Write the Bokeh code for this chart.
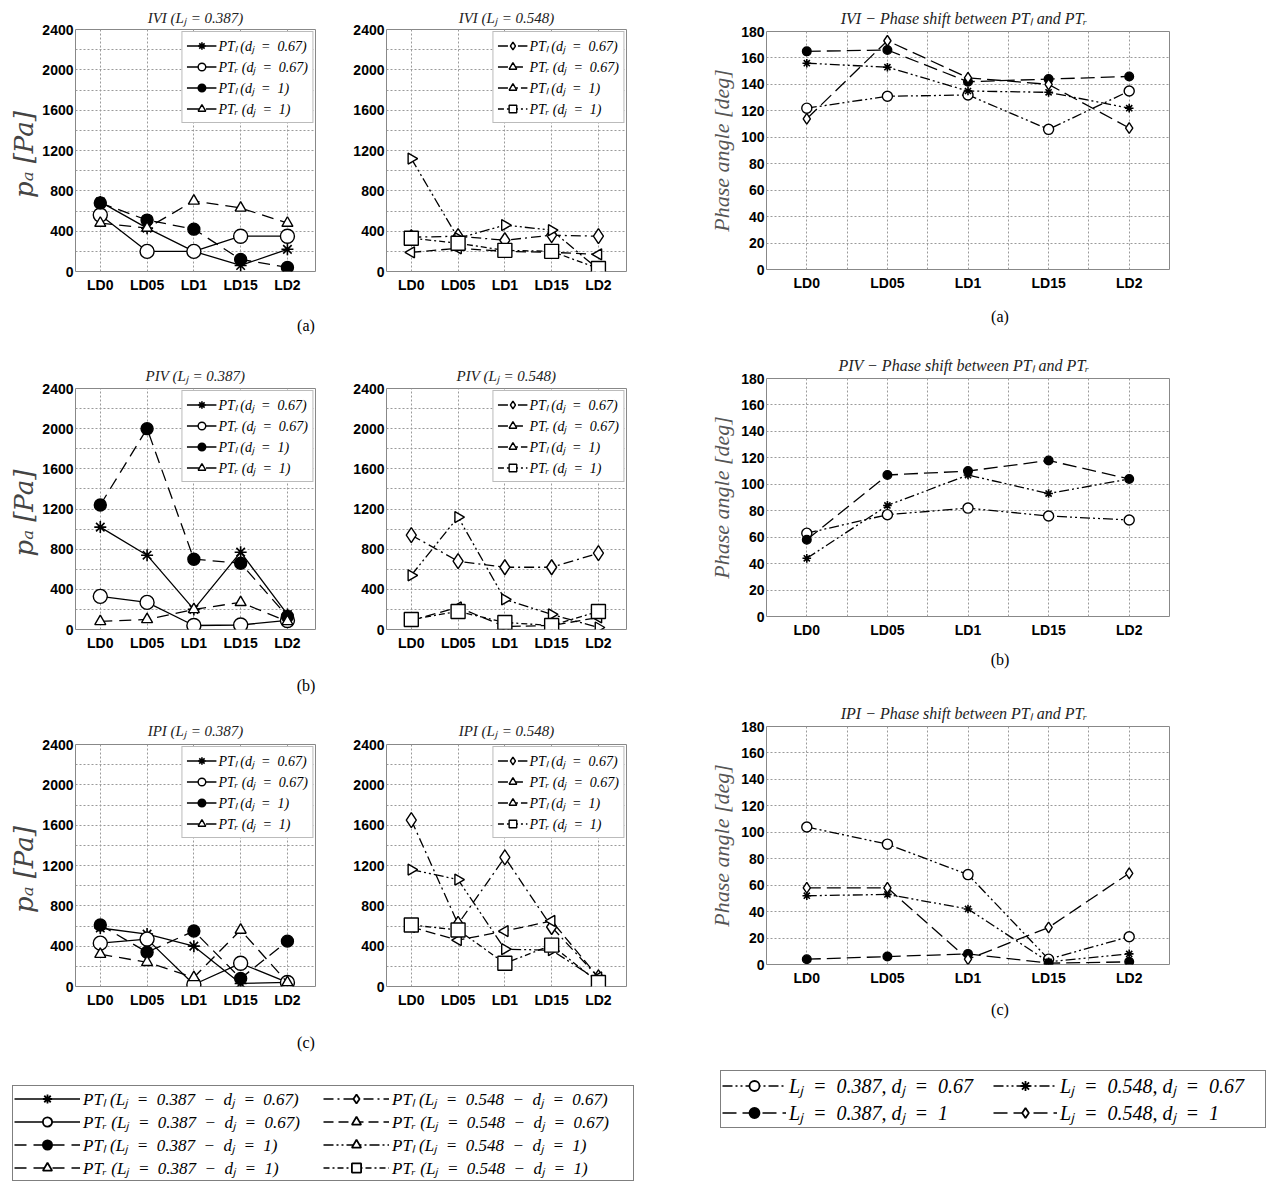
import math
from bokeh.plotting import figure
from bokeh.models import Range1d, FixedTicker, Legend, LegendItem, Div, Spacer
from bokeh.layouts import row, column
from bokeh.embed import file_html
from bokeh.resources import INLINE

# ---------------- data ----------------
categories = ["LD0", "LD05", "LD1", "LD15", "LD2"]
pressure_ticks = [0, 400, 800, 1200, 1600, 2000, 2400]
pressure_minor = [200, 600, 1000, 1400, 1800, 2200]
phase_ticks = [0, 20, 40, 60, 80, 100, 120, 140, 160, 180]

# IVI, Lj = 0.387
ivi_387_ptl_067 = [690, 430, 200, 60, 220]
ivi_387_ptr_067 = [560, 200, 200, 350, 350]
ivi_387_ptl_1 = [680, 510, 420, 120, 40]
ivi_387_ptr_1 = [480, 430, 700, 630, 480]
# IVI, Lj = 0.548
ivi_548_ptl_067 = [340, 350, 310, 360, 350]
ivi_548_ptr_067 = [190, 230, 200, 190, 170]
ivi_548_ptl_1 = [1120, 330, 460, 410, 20]
ivi_548_ptr_1 = [330, 280, 210, 200, 30]
# PIV, Lj = 0.387
piv_387_ptl_067 = [1020, 740, 200, 770, 150]
piv_387_ptr_067 = [330, 270, 40, 45, 90]
piv_387_ptl_1 = [1240, 2000, 700, 660, 130]
piv_387_ptr_1 = [80, 100, 200, 270, 80]
# PIV, Lj = 0.548
piv_548_ptl_067 = [940, 680, 620, 620, 760]
piv_548_ptr_067 = [90, 220, 30, 40, 120]
piv_548_ptl_1 = [540, 1120, 300, 150, 20]
piv_548_ptr_1 = [100, 180, 70, 40, 180]
# IPI, Lj = 0.387
ipi_387_ptl_067 = [580, 520, 400, 30, 40]
ipi_387_ptr_067 = [430, 470, 20, 230, 40]
ipi_387_ptl_1 = [610, 340, 550, 80, 450]
ipi_387_ptr_1 = [320, 240, 90, 560, 40]
# IPI, Lj = 0.548
ipi_548_ptl_067 = [1650, 620, 1280, 590, 90]
ipi_548_ptr_067 = [590, 460, 550, 650, 90]
ipi_548_ptl_1 = [1160, 1060, 370, 360, 60]
ipi_548_ptr_1 = [610, 560, 230, 410, 40]

# Phase shift between PT_l and PT_r [deg]
phase_ivi_387_067 = [122, 131, 132, 106, 135]
phase_ivi_387_1 = [165, 166, 142, 144, 146]
phase_ivi_548_067 = [156, 153, 135, 134, 122]
phase_ivi_548_1 = [114, 173, 145, 140, 107]
phase_piv_387_067 = [63, 77, 82, 76, 73]
phase_piv_387_1 = [58, 107, 110, 118, 104]
phase_piv_548_067 = [44, 84, 107, 93, 104]
phase_ipi_387_067 = [104, 91, 68, 4, 21]
phase_ipi_387_1 = [4, 6, 8, 1, 2]
phase_ipi_548_067 = [52, 53, 42, 2, 8]
phase_ipi_548_1 = [58, 58, 4, 28, 69]

x = list(range(len(categories)))

SERIF = "Liberation Serif"
SANS = "Liberation Sans"
GRID = "#9a9a9a"

# ---------------- styles ----------------
ST = {
    "star": dict(marker="asterisk", size=12, fill="black", angle=0.0),
    "ocirc": dict(marker="circle", size=14, fill="white", angle=0.0),
    "fcirc": dict(marker="circle", size=12, fill="black", angle=0.0),
    "tri": dict(marker="triangle", size=11, fill="white", angle=0.0),
    "diam": dict(marker="diamond", size=15, fill="white", angle=0.0),
    "ltri": dict(marker="triangle", size=11, fill="white", angle=math.pi / 2),
    "rtri": dict(marker="triangle", size=11, fill="white", angle=-math.pi / 2),
    "sq": dict(marker="square", size=14, fill="white", angle=0.0),
}
DASH = {
    "star": "solid", "ocirc": "solid", "fcirc": "12 7", "tri": "12 7",
    "diam": "10 4 2 4", "ltri": "10 5", "rtri": "10 3 2 3 2 3", "sq": "6 3 2 3",
}

lab_067_l = "PT\u2097 (d\u2C7C  =  0.67)"
lab_067_r = "PT\u1D63 (d\u2C7C  =  0.67)"
lab_1_l = "PT\u2097 (d\u2C7C  =  1)"
lab_1_r = "PT\u1D63 (d\u2C7C  =  1)"


def add_series(p, ys, key, size_scale=1.0, dash=None):
    st = ST[key]
    lr = p.line(x, ys, line_color="black", line_width=1.3,
                line_dash=dash if dash else DASH[key])
    sr = p.scatter(x, ys, marker=st["marker"], size=st["size"] * size_scale,
                   angle=st["angle"], fill_color=st["fill"], line_color="black",
                   line_width=1.6 if key == "star" else 1.4)
    return lr, sr


def style_axes(p, ylabel, ylabel_font, ylabel_size, ylabel_color):
    p.outline_line_color = "#888888"
    p.outline_line_width = 1
    p.background_fill_color = "white"
    p.border_fill_color = "white"
    for ax in (p.xaxis, p.yaxis):
        ax.axis_line_color = None
        ax.major_tick_out = 0
        ax.major_tick_in = 0
        ax.minor_tick_out = 0
        ax.minor_tick_in = 0
        ax.major_label_text_font = SANS
        ax.major_label_text_font_style = "bold"
        ax.major_label_text_font_size = "14px"
        ax.major_label_text_color = "black"
    p.xaxis.major_label_standoff = 5
    p.yaxis.major_label_standoff = 2
    p.xaxis.major_label_overrides = {i: c for i, c in enumerate(categories)}
    if ylabel:
        p.yaxis.axis_label = ylabel
        p.yaxis.axis_label_text_font = ylabel_font
        p.yaxis.axis_label_text_font_style = "italic"
        p.yaxis.axis_label_text_font_size = ylabel_size
        p.yaxis.axis_label_text_color = ylabel_color
        p.yaxis.axis_label_standoff = 0
    for g in (p.xgrid, p.ygrid):
        g.grid_line_color = GRID
        g.grid_line_dash = "2 2"
        g.grid_line_width = 1


def title_style(p, text, size, standoff):
    p.title.text = text
    p.title.align = "center"
    p.title.text_font = SERIF
    p.title.text_font_style = "italic"
    p.title.text_font_size = size
    p.title.text_color = "#222222"
    p.title.standoff = standoff


def pressure_fig(title, series, keys, width, bl, br, height, bt, bb, standoff, ylabel=None):
    p = figure(width=width, height=height, x_range=Range1d(-0.53, 4.6),
               y_range=Range1d(0, 2400), output_backend="svg", toolbar_location=None,
               min_border_left=bl, min_border_right=br, min_border_top=bt,
               min_border_bottom=bb)
    title_style(p, title, "15px", standoff)
    p.xaxis.ticker = FixedTicker(ticks=x)
    p.yaxis.ticker = FixedTicker(ticks=pressure_ticks, minor_ticks=pressure_minor)
    style_axes(p, ylabel, "DejaVu Serif", "26px", "#444444")
    p.ygrid.minor_grid_line_color = GRID
    p.ygrid.minor_grid_line_dash = "2 2"
    labels = [lab_067_l, lab_067_r, lab_1_l, lab_1_r]
    items = []
    for ys, key, lab in zip(series, keys, labels):
        lr, sr = add_series(p, ys, key)
        items.append(LegendItem(label=lab, renderers=[lr, sr]))
    leg = Legend(items=items, location="top_right", margin=2, padding=4, spacing=2,
                 label_height=19, glyph_height=19, glyph_width=30, label_standoff=2,
                 border_line_color="#777777", border_line_width=1,
                 background_fill_alpha=1.0, label_text_font=SERIF,
                 label_text_color="black",
                 label_text_font_style="italic", label_text_font_size="14px")
    p.add_layout(leg)
    return p


def phase_fig(title, series, keys, height, bt, bb):
    p = figure(width=500, height=height, x_range=Range1d(-0.5, 4.5),
               y_range=Range1d(0, 180), output_backend="svg", toolbar_location=None,
               min_border_left=76, min_border_right=21, min_border_top=bt,
               min_border_bottom=bb)
    title_style(p, title, "16px", 9)
    p.xaxis.ticker = FixedTicker(ticks=x, minor_ticks=[0.5, 1.5, 2.5, 3.5])
    p.yaxis.ticker = FixedTicker(ticks=phase_ticks)
    style_axes(p, "Phase angle [deg]", SERIF, "22px", "#555555")
    p.yaxis.axis_label_standoff = 4
    p.xgrid.minor_grid_line_color = GRID
    p.xgrid.minor_grid_line_dash = "2 2"
    for ys, key in zip(series, keys):
        dash = "14 6" if key in ("fcirc", "diam") else "10 3 2 3 2 3"
        add_series(p, ys, key, size_scale=0.72, dash=dash)
    return p


K387 = ["star", "ocirc", "fcirc", "tri"]
K548 = ["diam", "ltri", "rtri", "sq"]
YL = "p\u2090  [Pa]"

a1 = pressure_fig("IVI (L\u2C7C = 0.387)",
                  [ivi_387_ptl_067, ivi_387_ptr_067, ivi_387_ptl_1, ivi_387_ptr_1],
                  K387, 324, 66, 15, 300, 29, 29, 8, YL)
b1 = pressure_fig("IVI (L\u2C7C = 0.548)",
                  [ivi_548_ptl_067, ivi_548_ptr_067, ivi_548_ptl_1, ivi_548_ptr_1],
                  K548, 310, 56, 14, 300, 29, 29, 8)
a2 = pressure_fig("PIV (L\u2C7C = 0.387)",
                  [piv_387_ptl_067, piv_387_ptr_067, piv_387_ptl_1, piv_387_ptr_1],
                  K387, 324, 66, 15, 300, 33, 26, 10, YL)
b2 = pressure_fig("PIV (L\u2C7C = 0.548)",
                  [piv_548_ptl_067, piv_548_ptr_067, piv_548_ptl_1, piv_548_ptr_1],
                  K548, 310, 56, 14, 300, 33, 26, 10)
a3 = pressure_fig("IPI (L\u2C7C = 0.387)",
                  [ipi_387_ptl_067, ipi_387_ptr_067, ipi_387_ptl_1, ipi_387_ptr_1],
                  K387, 324, 66, 15, 300, 32, 26, 11, YL)
b3 = pressure_fig("IPI (L\u2C7C = 0.548)",
                  [ipi_548_ptl_067, ipi_548_ptr_067, ipi_548_ptl_1, ipi_548_ptr_1],
                  K548, 310, 56, 14, 300, 32, 26, 11)

PH_TITLE = " \u2212  Phase shift between PT\u2097 and PT\u1D63"
r1 = phase_fig("IVI " + PH_TITLE,
               [phase_ivi_387_067, phase_ivi_387_1, phase_ivi_548_067, phase_ivi_548_1],
               ["ocirc", "fcirc", "star", "diam"], 296, 31, 27)
r2 = phase_fig("PIV " + PH_TITLE,
               [phase_piv_387_067, phase_piv_387_1, phase_piv_548_067],
               ["ocirc", "fcirc", "star"], 290, 28, 22)
r3 = phase_fig("IPI " + PH_TITLE,
               [phase_ipi_387_067, phase_ipi_387_1, phase_ipi_548_067, phase_ipi_548_1],
               ["ocirc", "fcirc", "star", "diam"], 292, 28, 26)


def caption(text, left, height, top):
    d = Div(text=('<div style="margin-top:%dpx;font-family:\'Liberation Serif\';'
                  'font-size:16px;line-height:16px;text-align:center;width:40px;">%s</div>'
                  % (top, text)), width=40, height=height, margin=0)
    return row(Spacer(width=left, height=height, margin=0), d, margin=0, spacing=0)


def legend_fig(width, height, entries, font_size, row_h, glyph_w, label_width):
    # The legend samples are drawn from real series; the view range keeps the
    # lines themselves out of sight so only the legend box shows.
    lf = figure(width=width, height=height, output_backend="svg", toolbar_location=None,
                x_axis_type=None, y_axis_type=None, min_border=0,
                x_range=Range1d(-20, -10), y_range=Range1d(-20, -10))
    lf.outline_line_color = None
    lf.background_fill_color = "white"
    lf.border_fill_color = "white"
    items = []
    for key, dash, lab, scale, ys in entries:
        st = ST[key]
        lr = lf.line(x, ys, line_color="black", line_width=1.6, line_dash=dash)
        sr = lf.scatter(x, ys, marker=st["marker"], size=st["size"] * scale,
                        angle=st["angle"], fill_color=st["fill"], line_color="black",
                        line_width=1.8)
        items.append(LegendItem(label=lab, renderers=[lr, sr]))
    leg = Legend(items=items, location="top_left", ncols=2, margin=4, padding=1,
                 spacing=0, label_height=row_h, glyph_height=row_h, glyph_width=glyph_w,
                 label_standoff=3, label_width=label_width,
                 border_line_color="black", border_line_width=1.5,
                 label_text_font=SERIF, label_text_font_style="italic",
                 label_text_color="black", label_text_font_size=font_size)
    lf.add_layout(leg)
    return lf


E = "\u2002"
L1 = "(L\u2C7C" + E + "=" + E + "0.387" + E + "\u2212" + E + "d\u2C7C" + E + "=" + E
L2 = "(L\u2C7C" + E + "=" + E + "0.548" + E + "\u2212" + E + "d\u2C7C" + E + "=" + E
left_entries = [
    ("star", "solid", "PT\u2097 " + L1 + "0.67)", 0.9, ivi_387_ptl_067),
    ("ocirc", "solid", "PT\u1D63 " + L1 + "0.67)", 0.9, ivi_387_ptr_067),
    ("fcirc", "12 7", "PT\u2097 " + L1 + "1)", 0.9, ivi_387_ptl_1),
    ("tri", "12 7", "PT\u1D63 " + L1 + "1)", 0.9, ivi_387_ptr_1),
    ("diam", "10 4 2 4", "PT\u2097 " + L2 + "0.67)", 0.9, ivi_548_ptl_067),
    ("ltri", "10 5", "PT\u1D63 " + L2 + "0.67)", 0.9, ivi_548_ptr_067),
    ("rtri", "10 3 2 3 2 3", "PT\u2097 " + L2 + "1)", 0.9, ivi_548_ptl_1),
    ("sq", "6 3 2 3", "PT\u1D63 " + L2 + "1)", 0.9, ivi_548_ptr_1),
]
R1 = "L\u2C7C" + E + "=" + E + "0.387, d\u2C7C" + E + "=" + E
R2 = "L\u2C7C" + E + "=" + E + "0.548, d\u2C7C" + E + "=" + E
right_entries = [
    ("ocirc", "10 3 2 3 2 3", R1 + "0.67", 0.75, phase_ivi_387_067),
    ("fcirc", "14 6", R1 + "1", 0.75, phase_ivi_387_1),
    ("star", "10 3 2 3 2 3", R2 + "0.67", 0.75, phase_ivi_548_067),
    ("diam", "14 6", R2 + "1", 0.75, phase_ivi_548_1),
]
leg_left = legend_fig(630, 102, left_entries, "17px", 23, 66, 240)
leg_right = legend_fig(550, 64, right_entries, "20px", 25, 64, 204)

left_col = column(
    row(a1, b1, spacing=0), caption("(a)", 280, 55, 18),
    row(a2, b2, spacing=0), caption("(b)", 280, 57, 23),
    row(a3, b3, spacing=0), caption("(c)", 280, 58, 23),
    Spacer(width=634, height=11, margin=0),
    row(Spacer(width=2, height=102, margin=0), leg_left, spacing=0), spacing=0)

right_col = column(
    row(Spacer(width=50, height=296, margin=0), r1, spacing=0), caption("(a)", 340, 54, 13),
    row(Spacer(width=50, height=290, margin=0), r2, spacing=0), caption("(b)", 340, 58, 12),
    row(Spacer(width=50, height=292, margin=0), r3, spacing=0), caption("(c)", 340, 76, 12),
    row(Spacer(width=76, height=64, margin=0), leg_right, spacing=0), spacing=0)

page = row(Spacer(width=6, height=10, margin=0), left_col, right_col, spacing=0)

open("out.html", "w").write(file_html(page, INLINE))
